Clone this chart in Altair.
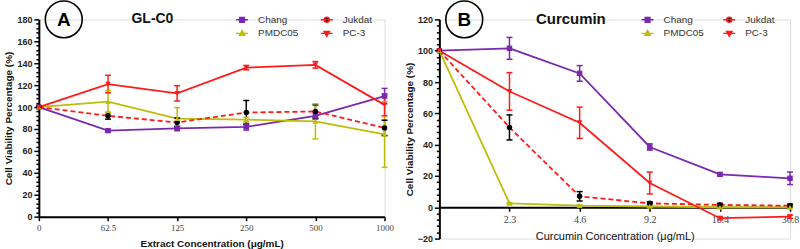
import json
import pandas as pd
import altair as alt

# ---------------- data ----------------
series = ["Chang", "Jukdat", "PMDC05", "PC-3"]
legend_order = ["Chang", "PMDC05", "Jukdat", "PC-3"]

conc_a = ["0", "62.5", "125", "250", "500", "1000"]
chang_a = [100, 78.5, 80.5, 82, 92, 110]
chang_a_err = [0, 1, 2, 3, 3, 7]
jukdat_a = [100, 92, 86, 95, 96, 81]
jukdat_a_err = [0, 3, 4, 11, 6, 7]
pmdc_a = [100, 105, 89.5, 88.5, 87, 75]
pmdc_a_err = [0, 10, 10, 2, 16, 30]
pc3_a = [100, 121, 112.5, 136, 138.5, 102]
pc3_a_err = [0, 8, 7, 2, 3, 10]

conc_b = ["0", "2.3", "4.6", "9.2", "18.4", "36.8"]
chang_b = [100, 101.5, 85.5, 38.5, 21, 18.5]
chang_b_err = [0, 7, 5, 2, 1, 4]
jukdat_b = [100, 51, 7, 2.5, 1.5, 1]
jukdat_b_err = [0, 8, 3, 1, 1, 1]
pmdc_b = [100, 2.5, 1, 0.5, 0, 0]
pmdc_b_err = [0, 0.5, 0.5, 0.5, 0.5, 0.5]
pc3_b = [100, 74, 54, 15.5, -7, -6]
pc3_b_err = [0, 12, 10, 7, 1, 1]

panel_letters = ["A", "B"]
panel_titles = ["GL-C0", "Curcumin"]
x_titles = ["Extract Concentration  (\u03bcg/mL)", "Curcumin Concentration  (\u03bcg/mL)"]
y_title = "Cell Viability Percentage (%)"

# ---------------- styles ----------------
PURPLE = "#7A28B0"
RED = "#FF1A1A"
OLIVE = "#BDBD0A"
BLACK = "#000000"
line_colors = {"Chang": PURPLE, "Jukdat": RED, "PMDC05": OLIVE, "PC-3": RED}
marker_colors = {"Chang": PURPLE, "Jukdat": BLACK, "PMDC05": OLIVE, "PC-3": RED}
marker_shapes = {"Chang": "square", "Jukdat": "circle",
                 "PMDC05": "triangle-up", "PC-3": "triangle-down"}
legend_paths = {
    "Chang": "M-1,0H1M-0.4,-0.4H0.4V0.4H-0.4Z",
    "Jukdat": "M-1,0H1M0.42,0A0.42,0.42,0,1,1,-0.42,0A0.42,0.42,0,1,1,0.42,0Z",
    "PMDC05": "M-1,0H1M0,-0.5L0.45,0.32H-0.45Z",
    "PC-3": "M-1,0H1M0,0.5L0.45,-0.32H-0.45Z",
}
SANS = "Liberation Sans"
SERIF = "Liberation Serif"


def frame(values, errors):
    rows = []
    for s, vals, errs in zip(series, values, errors):
        for i, (v, e) in enumerate(zip(vals, errs)):
            rows.append({"series": s, "idx": i, "mean": v, "err": e})
    df = pd.DataFrame(rows)
    df["lo"] = df["mean"] - df["err"]
    df["hi"] = df["mean"] + df["err"]
    df["lcolor"] = df["series"].map(line_colors)
    df["mcolor"] = df["series"].map(marker_colors)
    df["shape"] = df["series"].map(marker_shapes)
    return df


df_a = frame([chang_a, jukdat_a, pmdc_a, pc3_a],
             [chang_a_err, jukdat_a_err, pmdc_a_err, pc3_a_err])
df_b = frame([chang_b, jukdat_b, pmdc_b, pc3_b],
             [chang_b_err, jukdat_b_err, pmdc_b_err, pc3_b_err])


def panel(df, conc, ydom, w, h, k, x_values, x_offset, xt_weight, xt_size,
          xl_size, leg_x, leg_y, leg_colpad, title_x, title_size):
    xaxis = alt.Axis(
        title=x_titles[k], values=x_values,
        labelExpr=json.dumps(conc) + "[datum.value]",
        offset=x_offset, grid=False, tickSize=4, tickWidth=1.5,
        tickColor="black", domainColor="black", domainWidth=2,
        labelFont=SERIF, labelFontSize=xl_size, labelColor="#444",
        labelPadding=3, labelFlush=False, labelOverlap=False,
        titleFont=SANS, titleFontWeight=xt_weight, titleFontSize=xt_size,
        titleColor="#111", titlePadding=6,
    )
    yaxis = alt.Axis(
        title=y_title, values=list(range(ydom[0], ydom[1] + 1, 4)),
        labelExpr="datum.value % 20 === 0 ? datum.label : ''",
        tickSize={"condition": {"test": "datum.value % 20 === 0", "value": 5}, "value": 3},
        tickWidth=1.5, tickColor="black", domainColor="black", domainWidth=2,
        grid=False, labelOverlap=False,
        labelFont=SANS, labelFontWeight="bold", labelFontSize=9,
        labelColor="#222", labelPadding=2,
        titleFont=SANS, titleFontWeight="bold", titleFontSize=10,
        titleColor="#111", titlePadding=3,
    )
    xs = alt.Scale(domain=[0, 5], nice=False, zero=False)
    ys = alt.Scale(domain=ydom, nice=False, zero=False)

    def X():
        return alt.X("idx:Q", scale=xs, axis=xaxis)

    def Y(f):
        return alt.Y(f, scale=ys, axis=yaxis)

    base = alt.Chart(df)
    solid = base.transform_filter("datum.series !== 'Jukdat'").mark_line(
        strokeWidth=1.8).encode(
        x=X(), y=Y("mean:Q"), detail="series:N",
        stroke=alt.Stroke("lcolor:N", scale=None))
    dashed = base.transform_filter("datum.series === 'Jukdat'").mark_line(
        strokeWidth=1.8, strokeDash=[5, 3]).encode(
        x=X(), y=Y("mean:Q"), stroke=alt.Stroke("lcolor:N", scale=None))
    bars = base.transform_filter("datum.err > 0").mark_rule(strokeWidth=1.5).encode(
        x=X(), y=Y("lo:Q"), y2="hi:Q",
        stroke=alt.Stroke("mcolor:N", scale=None))
    caps = base.transform_filter("datum.err > 0").transform_fold(
        ["lo", "hi"], as_=["end", "value"]).mark_rule(
        strokeWidth=1.5, xOffset=-3, x2Offset=3).encode(
        x=X(), x2="idx:Q", y=Y("value:Q"),
        stroke=alt.Stroke("mcolor:N", scale=None))
    points = base.mark_point(filled=True, size=30, opacity=1).encode(
        x=X(), y=Y("mean:Q"),
        fill=alt.Fill("mcolor:N", scale=None),
        shape=alt.Shape("shape:N", scale=None))

    leg = alt.Legend(
        title=None, orient="none", legendX=leg_x, legendY=leg_y, columns=2,
        columnPadding=leg_colpad, rowPadding=1, padding=0, symbolSize=144,
        symbolStrokeWidth=1.4, labelFont=SANS, labelFontSize=10,
        labelColor="#333", labelOffset=9)
    legend_layer = alt.Chart(df).transform_filter("false").mark_point(
        filled=True, opacity=1, strokeWidth=1.4).encode(
        fill=alt.Fill("series:N", legend=leg, scale=alt.Scale(
            domain=legend_order, range=[marker_colors[s] for s in legend_order])),
        stroke=alt.Stroke("series:N", legend=leg, scale=alt.Scale(
            domain=legend_order, range=[line_colors[s] for s in legend_order])),
        shape=alt.Shape("series:N", legend=leg, scale=alt.Scale(
            domain=legend_order, range=[legend_paths[s] for s in legend_order])),
    )

    ann = alt.Chart(pd.DataFrame({"letter": [panel_letters[k]],
                                  "title": [panel_titles[k]]}))
    circle = ann.mark_point(shape="circle", size=1369, filled=False,
                            stroke="black", strokeWidth=1.6, opacity=1).encode(
        x=alt.value(25), y=alt.value(0))
    letter = ann.mark_text(font=SANS, fontSize=19, fontWeight="bold",
                           baseline="middle", align="center").encode(
        x=alt.value(25), y=alt.value(1), text="letter:N")
    title = ann.mark_text(font=SANS, fontSize=title_size, fontWeight="bold",
                          baseline="middle", align="center", color="#111").encode(
        x=alt.value(title_x), y=alt.value(0), text="title:N")

    return alt.layer(solid, dashed, bars, caps, points, legend_layer,
                     circle, letter, title).properties(width=w, height=h)


wa, ha = 347, 198
wb, hb = 352, 220
pa = panel(df_a, conc_a, [0, 180], wa, ha, 0, [0, 1, 2, 3, 4, 5], 0,
           "bold", 10, 9, 197, -7, 19, 114, 14)
pb = panel(df_b, conc_b, [-20, 120], wb, hb, 1, [1, 2, 3, 4, 5],
           -hb * 20 / 140, "normal", 11, 10, 202, -7, 16, 132, 15)

chart = alt.hconcat(pa, pb, spacing=9).resolve_scale(
    fill="independent", stroke="independent", shape="independent"
).properties(
    padding={"left": 3, "top": -4, "right": 0, "bottom": 0},
    autosize=alt.AutoSizeParams(type="pad"),
).configure_view(stroke=None).configure(background="white")

chart.save("out.html", embed_options={"renderer": "svg", "actions": False})
